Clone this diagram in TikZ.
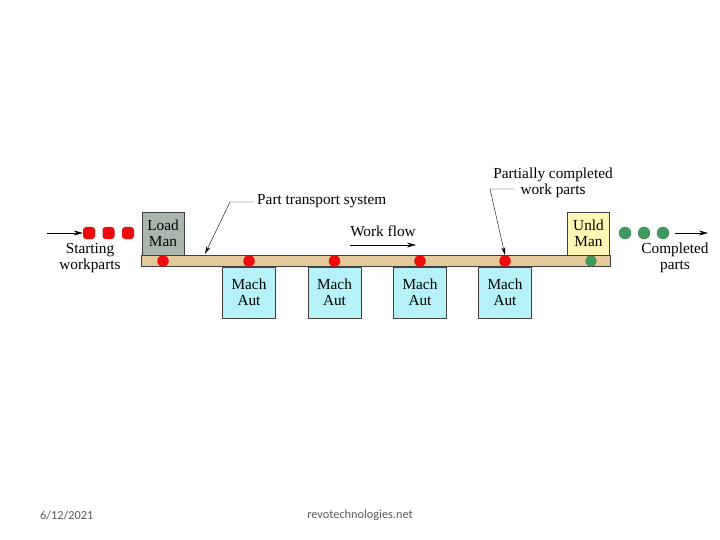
\documentclass[tikz,border=0pt]{standalone}
\usepackage{fontspec}
\setmainfont{Liberation Serif}
\newfontfamily\footfont{Carlito}
\usetikzlibrary{arrows.meta, calc, positioning}
\definecolor{loadgray}{HTML}{A8B6AE}
\definecolor{unldyellow}{HTML}{FFF6B4}
\definecolor{machcyan}{HTML}{B4F2F8}
\definecolor{bartan}{HTML}{E4C99A}
\definecolor{partred}{HTML}{EE0A0A}
\definecolor{partgreen}{HTML}{3F9A5E}
\definecolor{footgray}{HTML}{595959}

\begin{document}
\begin{tikzpicture}[x=1pt, y=-1pt,
  lbl/.style={font=\fontsize{15.3}{16}\selectfont, align=center, inner sep=0pt},
  station/.style={lbl, draw=black!75, thin, minimum width=53pt, minimum height=51pt},
  manual/.style={lbl, draw=black!75, thin, minimum width=42pt, minimum height=43pt},
  redpart/.style={circle, fill=partred, minimum size=11.5pt, inner sep=0pt},
  greenpart/.style={circle, fill=partgreen, draw=partgreen!60!black, very thin, minimum size=11pt, inner sep=0pt},
  inpart/.style={rectangle, rounded corners=3pt, fill=partred, minimum size=12pt, inner sep=0pt},
  flow/.style={-{Stealth[length=9pt, width=5pt]}, semithick},
  leader/.style={-{Stealth[length=8pt, width=4pt]}, thin},
  foot/.style={font=\footfont\fontsize{12.3}{14}\selectfont, text=footgray, inner sep=0pt}]
\useasboundingbox (0,0) rectangle (720,540);

% transport bar and stations
\node[draw=black!75, thin, fill=bartan, minimum width=469pt, minimum height=11pt, inner sep=0pt] (bar) at (375.5,260.5) {};
\node[manual, fill=loadgray] (load) at (163,233.5) {Load\\Man};
\node[manual, fill=unldyellow] (unld) at (588.5,233.5) {Unld\\Man};
\foreach \i/\x in {1/249, 2/334.5, 3/420, 4/505}
  \node[station, fill=machcyan] (mach\i) at (\x,292.5) {Mach\\Aut};

% parts on the bar
\node[redpart] (p0) at (163,261) {};
\foreach \i/\x in {1/249, 2/334.5, 3/420, 4/505}
  \node[redpart] (p\i) at (\x,261) {};
\node[greenpart] (pdone) at (591,261) {};

% starting workparts
\coordinate (inarrow) at (47,233);
\foreach \i/\x in {1/89, 2/108.5, 3/128}
  \node[inpart] (in\i) at (\x,233) {};
\draw[flow] (inarrow) -- (in1.west);
\node[lbl] (startlbl) at (90,258) {Starting\\workparts};

% completed parts
\foreach \i/\x in {1/625, 2/644, 3/663}
  \node[greenpart, minimum size=12pt] (out\i) at (\x,233) {};
\coordinate (outarrow) at (708,233);
\draw[flow] (out3.east) ++(6,0) -- (outarrow);
\node[lbl] (donelbl) at (675,258) {Completed\\parts};

% work flow
\node[lbl] (flowlbl) at (383,231) {Work flow};
\coordinate (flowstart) at (350,245);
\coordinate (flowend) at (416,245);
\draw[flow] (flowstart) -- (flowend);

% leaders
\node[lbl, anchor=west] (ptslbl) at (257,201) {Part transport system};
\coordinate (ptsbend) at (230,202);
\coordinate (ptstip) at (205,254);
\draw[leader] (ptslbl.west) ++(-3,1) -- (ptsbend) -- (ptstip);

\node[lbl] (pctop) at (553,175) {Partially completed};
\node[lbl] (pcbot) at (553,191) {work parts};
\coordinate (pcbend) at (490,189);
\draw[leader] (pcbot.west) ++(-6,-2) -- (pcbend) -- (p4.north);

% footer
\node[foot, anchor=west] (date) at (40,515) {6/12/2021};
\node[foot] (site) at (360,515) {revotechnologies.net};
\end{tikzpicture}
\end{document}
